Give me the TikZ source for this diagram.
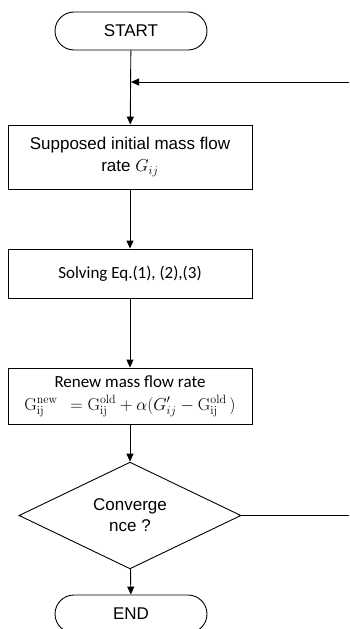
\documentclass[tikz,border=0pt]{standalone}
\usepackage[no-math]{fontspec}
\setmainfont{Liberation Sans}
\newfontfamily\calfont{Carlito}
\usetikzlibrary{shapes.geometric,arrows.meta}
\begin{document}
\begin{tikzpicture}[x=1pt, y=-1pt, line width=0.9pt,
	term/.style={draw, rectangle, rounded corners=19pt, minimum width=152pt, minimum height=38pt, inner sep=0pt},
	proc/.style={draw, rectangle, minimum width=244pt, inner sep=0pt, align=center},
	decide/.style={draw, diamond, minimum width=222pt, minimum height=73pt, inner sep=0pt, align=center},
	arr/.style={-{Triangle[width=7pt,length=8pt]}},
	font=\fontsize{17}{22}\selectfont]
	\useasboundingbox (0,0) rectangle (349,629);
	\clip (0,0) rectangle (349,629);
	\node[term] (start) at (131,31) {START};
	\node[proc, minimum height=64pt] (guess) at (130,157) {Supposed initial mass flow\\rate $G_{ij}$};
	\node[proc, minimum height=49pt] (solve) at (130,273.5) {\calfont Solving Eq.(1), (2),(3)};
	\node[proc, minimum height=56pt] (renew) at (130,396) {\calfont Renew mass flow rate\\[1pt]%
		$\mathrm{G}_{\mathrm{ij}}^{\mathrm{new}}\;\, = \mathrm{G}_{\mathrm{ij}}^{\mathrm{old}} + \alpha\bigl(G'_{ij} - \mathrm{G}_{\mathrm{ij}}^{\mathrm{old}}\,\bigr)$};
	\node[decide, font=\fontsize{17}{21}\selectfont] (conv) at (130,515.5) {Converge\\nce ?};
	\node[term] (stop) at (131,614) {END};
	\coordinate (join) at (131,82);
	\coordinate (back) at (349,82);
	\coordinate (edge) at (349,515.5);
		\draw[arr] (start) -- (guess);
		\draw[arr] (back) -- (join);
		\draw[arr] (guess) -- (solve);
		\draw[arr] (solve) -- (renew);
		\draw[arr] (renew) -- (conv);
		\draw[arr] (conv) -- (stop);
		\draw (conv.east) -- (edge);
\end{tikzpicture}
\end{document}
